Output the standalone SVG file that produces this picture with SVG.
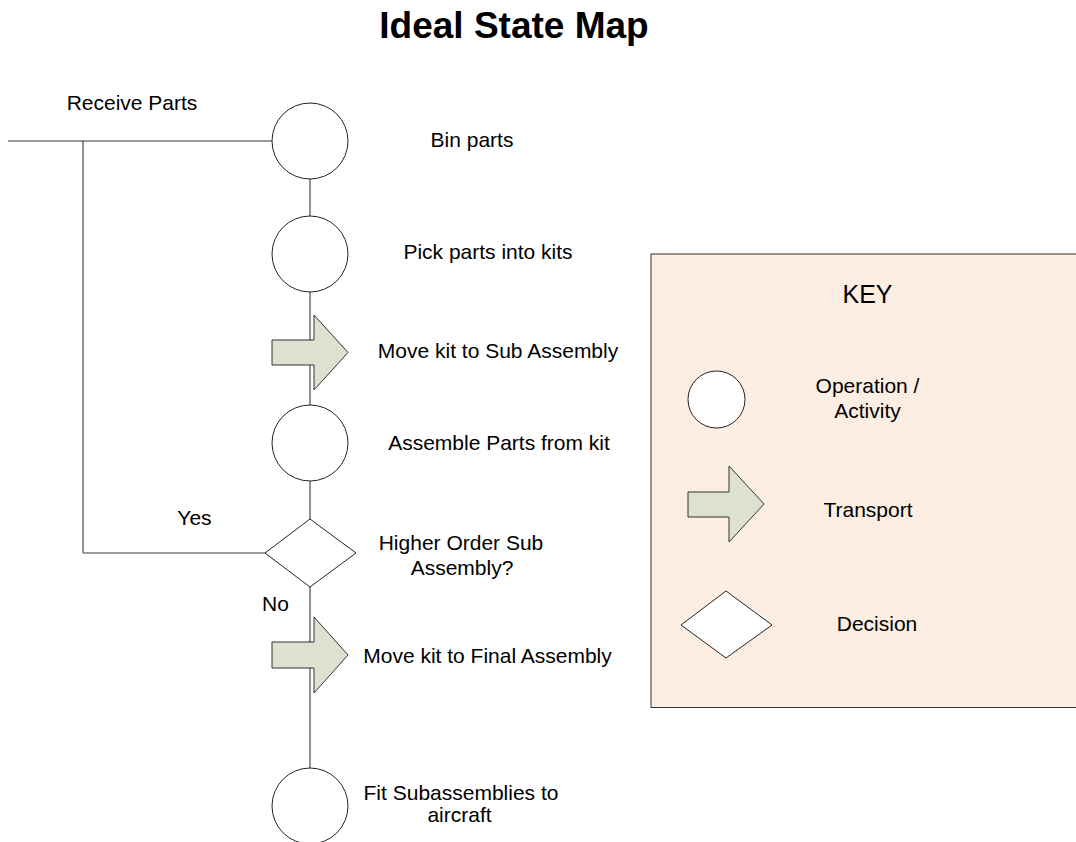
<svg xmlns="http://www.w3.org/2000/svg" width="1076" height="842" viewBox="0 0 1076 842">
  <style>
    text { font-family: "Liberation Sans", Arial, sans-serif; font-size: 21px; fill: #000; text-anchor: middle; }
    .title { font-size: 37px; font-weight: bold; }
    .key-title { font-size: 25px; }
    .op { fill: #fff; stroke: #222; stroke-width: 1; }
    .transport { fill: #DCE2CF; stroke: #333; stroke-width: 1; }
    .decision { fill: #fff; stroke: #222; stroke-width: 1; }
    .link { fill: none; stroke: #222; stroke-width: 1; }
    .feed { fill: none; stroke: #777; stroke-width: 1.6; }
  </style>

  <rect width="1076" height="842" fill="#fff"/>

  <text class="title" x="514" y="38">Ideal State Map</text>

  <!-- connectors -->
  <g id="connectors">
    <line class="feed" x1="8" y1="141" x2="272" y2="141"/>
    <line class="link" x1="83" y1="141" x2="83" y2="553"/>
    <line class="feed" x1="83" y1="553" x2="265" y2="553"/>
    <line class="link" x1="310" y1="179" x2="310" y2="216"/>
    <line class="link" x1="310" y1="292" x2="310" y2="405"/>
    <line class="link" x1="310" y1="481" x2="310" y2="519"/>
    <line class="link" x1="310" y1="587" x2="310" y2="768"/>
  </g>

  <g id="receive-parts">
    <text x="132" y="110">Receive Parts</text>
  </g>

  <g id="bin-parts">
    <circle class="op" cx="310" cy="141" r="38"/>
    <text x="472" y="147">Bin parts</text>
  </g>

  <g id="pick-parts">
    <circle class="op" cx="310" cy="254" r="38"/>
    <text x="488" y="259">Pick parts into kits</text>
  </g>

  <g id="move-sub-assembly">
    <polygon class="transport" points="272,340 314,340 314,315 348,352.5 314,390 314,365 272,365"/>
    <text x="498" y="358">Move kit to Sub Assembly</text>
  </g>

  <g id="assemble-parts">
    <circle class="op" cx="310" cy="443" r="38"/>
    <text x="499" y="450">Assemble Parts from kit</text>
  </g>

  <g id="higher-order">
    <polygon class="decision" points="310,519 356,553 310,587 265,553"/>
    <text x="461" y="550">Higher Order Sub</text>
    <text x="462" y="575">Assembly?</text>
    <text x="194.5" y="525">Yes</text>
    <text x="275.5" y="611">No</text>
  </g>

  <g id="move-final-assembly">
    <polygon class="transport" points="272,642 314,642 314,617 348,655 314,693 314,668 272,668"/>
    <text x="487.5" y="663">Move kit to Final Assembly</text>
  </g>

  <g id="fit-subassemblies">
    <circle class="op" cx="310" cy="806" r="38"/>
    <text x="461" y="800">Fit Subassemblies to</text>
    <text x="459.5" y="822">aircraft</text>
  </g>

  <!-- legend -->
  <g id="key">
    <rect x="651" y="254" width="440" height="453.5" fill="#FCEEE3" stroke="#333" stroke-width="1"/>
    <text class="key-title" x="867.5" y="303">KEY</text>
    <circle class="op" cx="716.5" cy="399.5" r="28.5"/>
    <text x="867.5" y="393">Operation /</text>
    <text x="867.5" y="418">Activity</text>
    <polygon class="transport" points="688,492 729,492 729,466 764,504 729,542 729,517 688,517"/>
    <text x="868" y="517">Transport</text>
    <polygon class="decision" points="726,591 772,625 726,658 681,625"/>
    <text x="877" y="631">Decision</text>
  </g>
</svg>
